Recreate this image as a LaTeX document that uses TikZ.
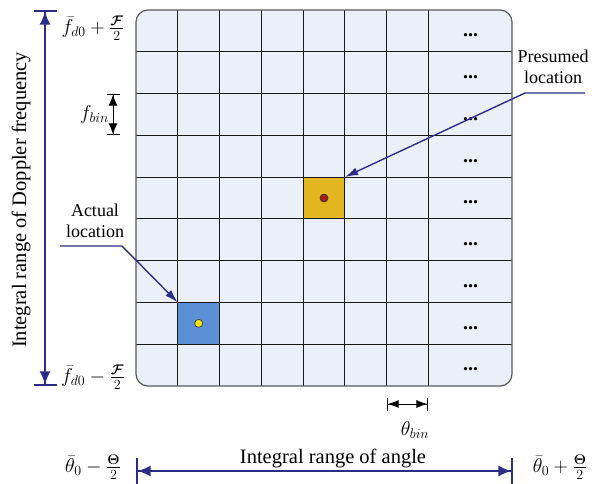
\RequirePackage{fix-cm}
\documentclass[tikz,border=0pt]{standalone}
\usepackage{amsmath,bm}
\usepackage{fontspec}
\setmainfont{Liberation Serif}
\usetikzlibrary{arrows.meta}
\definecolor{navy}{RGB}{45,45,135}
\definecolor{cellfill}{RGB}{235,239,248}
\definecolor{cellblue}{RGB}{91,143,214}
\definecolor{cellyellow}{RGB}{227,181,31}
\definecolor{dotred}{RGB}{160,30,30}
\definecolor{dotyellow}{RGB}{250,230,20}
\begin{document}
\begin{tikzpicture}[x=1pt,y=-1pt,
  font=\fontsize{20}{24}\selectfont,
  gridline/.style={line width=0.9pt, black!90},
  border/.style={line width=1.2pt, black!65},
  cellbox/.style={minimum size=41.78pt, inner sep=0pt, draw=none},
  marker/.style={circle, minimum size=8pt, inner sep=0pt, draw=black!80, line width=0.6pt},
  ellip/.style={inner sep=0pt, font=\fontsize{20}{24}\selectfont\bfseries},
  navyarrow/.style={navy, line width=1.6pt},
  navyline/.style={navy, line width=1.4pt, -{Latex[length=13pt,width=8pt]}},
  dimline/.style={black, line width=1pt},
  lbl/.style={align=center, inner sep=0pt, font=\fontsize{18}{20.5}\selectfont},
  biglbl/.style={font=\fontsize{20.5}{24}\selectfont},
  mlabel/.style={inner sep=0pt}
]
\useasboundingbox (0,0) rectangle (613,484);
\def\s{41.78}
% grid background
\fill[cellfill, rounded corners=12pt] (136,10) rectangle (512,386);
\node[cellbox, fill=cellblue] (actual) at ({136+1.5*\s},{10+7.5*\s}) {};
\node[cellbox, fill=cellyellow] (presumed) at ({136+4.5*\s},{10+4.5*\s}) {};
\foreach \i in {1,...,7} {
  \draw[gridline] ({136+\i*\s},10) -- ({136+\i*\s},386);
}
\foreach \i in {1,...,8} {
  \draw[gridline] (136,{10+\i*\s}) -- (512,{10+\i*\s});
}
\draw[border, rounded corners=12pt] (136,10) rectangle (512,386);
\node[marker, fill=dotyellow] (adot) at (actual) {};
\node[marker, fill=dotred] (pdot) at (presumed) {};
\foreach \r in {0,...,8} {
  \node[ellip] (dots\r) at (470.5,{10+(\r+0.5)*\s+4.5}) {...};
}
% Doppler range arrow
\coordinate (ftop) at (45,10);
\coordinate (fbot) at (45,386);
\draw[navyarrow, {Bar[width=23pt]Latex[length=13pt,width=11pt]}-{Latex[length=13pt,width=11pt]Bar[width=23pt]}] (fbot) -- (ftop);
\node[biglbl, rotate=90] (flabel) at (21,200) {Integral range of Doppler frequency};
\node[mlabel] (fplus) at (93,28) {$\bar{f}_{d0}+\frac{\bm{\mathcal{F}}}{2}$};
\node[mlabel] (fminus) at (93,377) {$\bar{f}_{d0}-\frac{\bm{\mathcal{F}}}{2}$};
% f_bin
\coordinate (fb1) at (113,{10+2*\s});
\coordinate (fb2) at (113,{10+3*\s});
\draw[dimline, {Bar[width=13pt]Latex[length=11pt,width=9pt]}-{Latex[length=11pt,width=9pt]Bar[width=13pt]}] (fb1) -- (fb2);
\node[mlabel, anchor=east] (fbin) at (109,115) {$f_{bin}$};
% theta_bin
\coordinate (tb1) at ({136+6*\s},404);
\coordinate (tb2) at ({136+7*\s},404);
\draw[dimline, {Bar[width=13pt]Latex[length=11pt,width=8pt]}-{Latex[length=11pt,width=8pt]Bar[width=13pt]}] (tb1) -- (tb2);
\node[mlabel] (tbin) at (415,430) {$\theta_{bin}$};
% angle range arrow
\coordinate (aleft) at (136,471);
\coordinate (aright) at (513,471);
\draw[navyarrow, {Bar[width=26pt]Latex[length=13pt,width=11pt]}-{Latex[length=13pt,width=11pt]Bar[width=26pt]}] (aleft) -- (aright);
\node[biglbl] (alabel) at (333,458) {Integral range of angle};
\node[mlabel] (tminus) at (93,467) {$\bar{\theta}_0-\frac{\bm{\Theta}}{2}$};
\node[mlabel] (tplus) at (560,467) {$\bar{\theta}_0+\frac{\bm{\Theta}}{2}$};
% presumed location
\node[lbl] (ptext) at (553,67) {Presumed\\location};
\coordinate (pstart) at (585,93);
\coordinate (pbend) at (525,93);
\draw[navyline] (pstart) -- (pbend) -- (presumed.north east);
% actual location
\node[lbl] (atext) at (95,221) {Actual\\location};
\coordinate (astart) at (60,246);
\coordinate (abend) at (122,246);
\draw[navyline] (astart) -- (abend) -- (actual.north west);
\end{tikzpicture}
\end{document}
